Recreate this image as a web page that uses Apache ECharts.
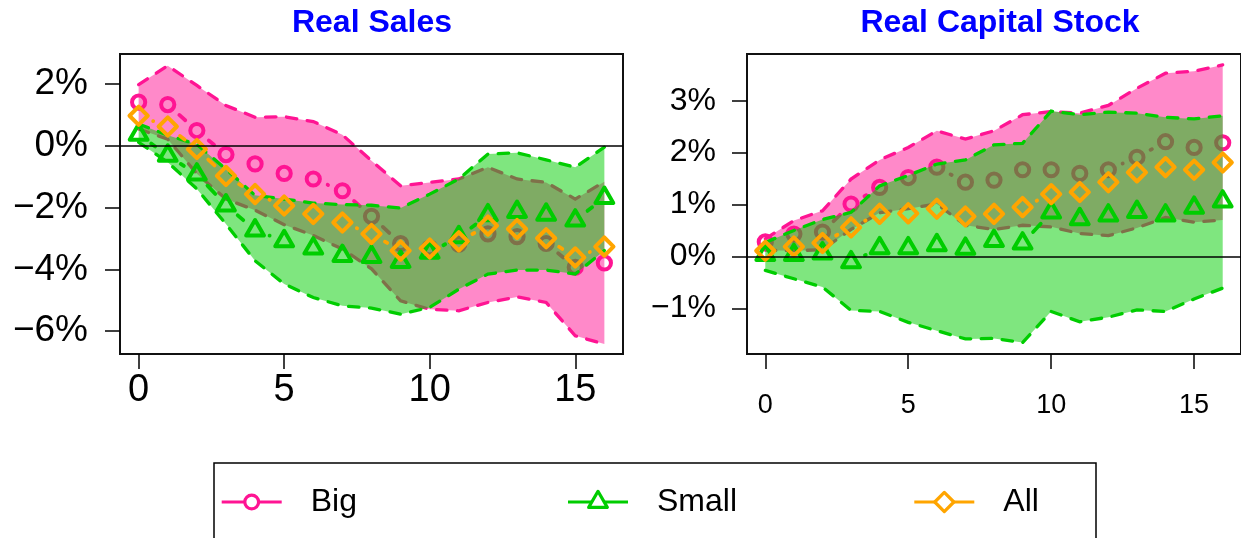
<!DOCTYPE html>
<html>
<head>
<meta charset="utf-8">
<script src="https://cdn.jsdelivr.net/npm/echarts@6/dist/echarts.min.js"></script>
<style>
  html, body { margin: 0; padding: 0; background: #fff; }
  #chart { width: 1241px; height: 538px; }
</style>
</head>
<body>
<div id="chart"></div>
<script>
// Horizons (quarters after the shock) and tick marks
const horizons = [0, 1, 2, 3, 4, 5, 6, 7, 8, 9, 10, 11, 12, 13, 14, 15, 16];
const horizonTicks = [0, 5, 10, 15];
const salesTicks = [-6, -4, -2, 0, 2];
const capitalTicks = [-1, 0, 1, 2, 3];
const groupNames = ['Big', 'Small', 'All'];
const panelTitles = ['Real Sales', 'Real Capital Stock'];

// Real sales responses (%)
const salesBig   = [1.42, 1.34, 0.50, -0.28, -0.58, -0.89, -1.07, -1.45, -2.28, -3.16, -3.30, -3.18, -2.85, -2.94, -3.16, -3.93, -3.79];
const salesSmall = [0.37, -0.31, -0.92, -1.92, -2.73, -3.08, -3.32, -3.56, -3.59, -3.75, -3.45, -2.95, -2.24, -2.13, -2.22, -2.41, -1.68];
const salesAll   = [0.98, 0.63, -0.10, -0.97, -1.56, -1.93, -2.20, -2.48, -2.85, -3.39, -3.32, -3.09, -2.58, -2.69, -2.99, -3.61, -3.26];
const salesBigUpper   = [1.99, 2.60, 1.96, 1.31, 0.93, 0.95, 0.79, 0.36, -0.48, -1.29, -1.18, -1.07, -0.69, -1.07, -1.18, -1.72, -1.16];
const salesBigLower   = [0.55, 0.22, -0.90, -1.72, -2.08, -2.55, -2.90, -3.34, -3.98, -5.02, -5.29, -5.34, -5.07, -4.89, -5.07, -6.15, -6.42];
const salesSmallUpper = [0.71, 0.35, 0.05, -0.75, -1.60, -1.72, -1.85, -1.90, -1.92, -2.01, -1.56, -1.07, -0.26, -0.22, -0.45, -0.69, -0.04];
const salesSmallLower = [0.12, -0.53, -1.39, -2.53, -3.72, -4.47, -4.91, -5.18, -5.25, -5.45, -5.23, -4.64, -4.15, -4.02, -4.02, -4.15, -3.39];

// Real capital stock responses (%)
const capBig   = [0.28, 0.43, 0.47, 1.01, 1.33, 1.52, 1.72, 1.43, 1.47, 1.67, 1.67, 1.60, 1.67, 1.91, 2.21, 2.10, 2.19];
const capSmall = [0.03, 0.03, 0.06, -0.11, 0.16, 0.16, 0.22, 0.15, 0.30, 0.25, 0.85, 0.72, 0.79, 0.86, 0.79, 0.94, 1.06];
const capAll   = [0.11, 0.19, 0.26, 0.56, 0.82, 0.83, 0.92, 0.77, 0.82, 0.95, 1.20, 1.24, 1.43, 1.62, 1.72, 1.67, 1.81];
const capBigUpper   = [0.34, 0.69, 0.88, 1.49, 1.86, 2.10, 2.42, 2.26, 2.42, 2.73, 2.79, 2.76, 2.91, 3.24, 3.53, 3.57, 3.69];
const capBigLower   = [0.12, 0.11, 0.13, 0.52, 0.84, 0.92, 1.01, 0.60, 0.52, 0.60, 0.57, 0.44, 0.40, 0.55, 0.75, 0.66, 0.70];
const capSmallUpper = [0.27, 0.50, 0.71, 0.85, 1.36, 1.56, 1.78, 1.86, 2.15, 2.18, 2.80, 2.73, 2.78, 2.76, 2.68, 2.65, 2.71];
const capSmallLower = [-0.27, -0.43, -0.59, -1.04, -1.06, -1.27, -1.43, -1.59, -1.58, -1.66, -1.06, -1.26, -1.17, -1.03, -1.06, -0.82, -0.61];

const PINK = '#FF1493';
const GREEN = '#00CD00';
const ORANGE = '#FFA500';
const PINK_FILL = 'rgba(255,20,147,0.5)';
const GREEN_FILL = 'rgba(0,205,0,0.5)';
const FONT = '"Liberation Sans", Arial, Helvetica, sans-serif';
const GAP = 15.5;        // blank space left around each marker by the connecting lines
const MARK_W = 4;        // marker outline width
const MARK_SCALE = 1.1;  // marker size factor

const pairs = ys => horizons.map((h, i) => [h, ys[i]]);
const pct = v => (v < 0 ? '\u2212' + (-v) : String(v)) + '%';

// Marker outlines, centred on the point (triangle on its centroid)
const markerShapes = {
  circle: (p, s) => ({ type: 'circle', shape: { cx: p[0], cy: p[1], r: 6 * s } }),
  triangle: (p, s) => ({ type: 'polygon', x: p[0], y: p[1],
    shape: { points: [[0, -9.3 * s], [8.1 * s, 4.7 * s], [-8.1 * s, 4.7 * s]] } }),
  diamond: (p, s) => ({ type: 'polygon', x: p[0], y: p[1],
    shape: { points: [[0, -8.3 * s], [8.3 * s, 0], [0, 8.3 * s], [-8.3 * s, 0]] } })
};

// Shaded confidence band with dashed edges
function bandSeries(gi, lo, hi, color, fill, z) {
  return {
    type: 'custom', xAxisIndex: gi, yAxisIndex: gi, z: z, silent: true,
    data: horizons.map((h, i) => [h, lo[i], hi[i]]),
    encode: { x: 0, y: [1, 2] },
    renderItem(params, api) {
      if (params.dataIndexInside !== 0) return null;
      const n = params.dataInsideLength;
      const upper = [], lower = [];
      for (let j = 0; j < n; j++) {
        const x = api.value(0, j);
        upper.push(api.coord([x, api.value(2, j)]));
        lower.push(api.coord([x, api.value(1, j)]));
      }
      const edge = { stroke: color, lineWidth: 3.3, lineDash: [10.5, 10.5], lineCap: 'round', fill: 'none' };
      return {
        type: 'group',
        children: [
          { type: 'polygon', shape: { points: upper.concat(lower.slice().reverse()) }, style: { fill: fill, stroke: 'none' } },
          { type: 'polyline', shape: { points: upper }, style: edge },
          { type: 'polyline', shape: { points: lower }, style: edge }
        ]
      };
    }
  };
}

// Connecting lines that stop short of each marker
function linkSeries(gi, ys, color, z) {
  return {
    type: 'custom', xAxisIndex: gi, yAxisIndex: gi, z: z, silent: true,
    data: pairs(ys),
    encode: { x: 0, y: 1 },
    renderItem(params, api) {
      const k = params.dataIndexInside;
      if (k >= params.dataInsideLength - 1) return null;
      const a = api.coord([api.value(0, k), api.value(1, k)]);
      const b = api.coord([api.value(0, k + 1), api.value(1, k + 1)]);
      const dx = b[0] - a[0], dy = b[1] - a[1];
      const len = Math.hypot(dx, dy);
      if (len <= 2 * GAP) return null;
      const ux = dx / len, uy = dy / len;
      return {
        type: 'line',
        shape: { x1: a[0] + ux * GAP, y1: a[1] + uy * GAP, x2: b[0] - ux * GAP, y2: b[1] - uy * GAP },
        style: { stroke: color, lineWidth: 3.8, lineCap: 'round' }
      };
    }
  };
}

// Hollow markers
function pointSeries(gi, name, ys, color, kind, z, extra) {
  return Object.assign({
    type: 'custom', name: name, xAxisIndex: gi, yAxisIndex: gi, z: z, silent: true,
    data: pairs(ys),
    encode: { x: 0, y: 1 },
    renderItem(params, api) {
      const p = api.coord([api.value(0), api.value(1)]);
      const el = markerShapes[kind](p, MARK_SCALE);
      el.style = { fill: 'none', stroke: color, lineWidth: MARK_W, lineJoin: 'round' };
      return el;
    }
  }, extra || {});
}

const zeroLine = {
  silent: true, z: 30, symbol: ['none', 'none'], label: { show: false },
  lineStyle: { color: '#000', width: 1.5, type: 'solid' },
  emphasis: { disabled: true },
  data: [{ yAxis: 0 }]
};

function panelSeries(gi, big, small, all, bigLo, bigHi, smallLo, smallHi) {
  return [
    bandSeries(gi, bigLo, bigHi, PINK, PINK_FILL, 2),
    linkSeries(gi, big, PINK, 3),
    pointSeries(gi, groupNames[0], big, PINK, 'circle', 4),
    bandSeries(gi, smallLo, smallHi, GREEN, GREEN_FILL, 5),
    linkSeries(gi, small, GREEN, 6),
    pointSeries(gi, groupNames[1], small, GREEN, 'triangle', 7),
    linkSeries(gi, all, ORANGE, 8),
    pointSeries(gi, groupNames[2], all, ORANGE, 'diamond', 9, { markLine: zeroLine })
  ];
}

function xAxisFor(gi, fontSize, margin) {
  return {
    gridIndex: gi, type: 'value', min: -0.64, max: 16.64,
    axisLine: { show: false, onZero: false }, splitLine: { show: false },
    axisTick: { show: true, customValues: horizonTicks, length: 15, lineStyle: { color: '#000', width: 1.5 } },
    axisLabel: { show: true, customValues: horizonTicks, fontSize: fontSize, color: '#000', fontFamily: FONT, margin: margin, verticalAlign: 'middle' }
  };
}

function yAxisFor(gi, min, max, ticks, fontSize, margin) {
  return {
    gridIndex: gi, type: 'value', min: min, max: max,
    axisLine: { show: false, onZero: false }, splitLine: { show: false },
    axisTick: { show: true, customValues: ticks, length: 15, lineStyle: { color: '#000', width: 1.5 } },
    axisLabel: { show: true, customValues: ticks, formatter: pct, fontSize: fontSize, color: '#000', fontFamily: FONT, margin: margin }
  };
}

const titleStyle = { font: 'bold 32px ' + FONT, fill: '#0000FF', align: 'center', verticalAlign: 'middle' };
const legendText = { font: '32px ' + FONT, fill: '#000', align: 'left', verticalAlign: 'middle' };
const LEG_Y = 502;

// Legend key: short line with the group's marker in the middle
function legendKey(x, color, kind, label) {
  const mid = x + 30;
  const mark = markerShapes[kind]([mid, LEG_Y], 1.15);
  mark.style = { fill: '#fff', stroke: color, lineWidth: 3.2, lineJoin: 'round' };
  return [
    { type: 'line', shape: { x1: x, y1: LEG_Y, x2: x + 60, y2: LEG_Y }, style: { stroke: color, lineWidth: 3.2 } },
    mark,
    { type: 'text', x: x + 89, y: LEG_Y, style: Object.assign({ text: label }, legendText) }
  ];
}

const chart = echarts.init(document.getElementById('chart'), null, { renderer: 'canvas' });
chart.setOption({
  animation: false,
  backgroundColor: '#fff',
  grid: [
    { left: 120, top: 54, width: 503, height: 300, show: true, borderColor: '#111', borderWidth: 2 },
    { left: 747, top: 54, width: 503, height: 300, show: true, borderColor: '#111', borderWidth: 2 }
  ],
  xAxis: [xAxisFor(0, 38, 37), xAxisFor(1, 27, 52)],
  yAxis: [
    yAxisFor(0, -6.74, 2.98, salesTicks, 37, 32),
    yAxisFor(1, -1.88, 3.90, capitalTicks, 32, 31)
  ],
  series: [].concat(
    panelSeries(0, salesBig, salesSmall, salesAll, salesBigLower, salesBigUpper, salesSmallLower, salesSmallUpper),
    panelSeries(1, capBig, capSmall, capAll, capBigLower, capBigUpper, capSmallLower, capSmallUpper)
  ),
  graphic: [
    { type: 'text', x: 372, y: 23, style: Object.assign({ text: panelTitles[0] }, titleStyle) },
    { type: 'text', x: 1000, y: 23, style: Object.assign({ text: panelTitles[1] }, titleStyle) },
    { type: 'rect', shape: { x: 214, y: 463, width: 882, height: 120 }, style: { fill: 'none', stroke: '#000', lineWidth: 1.5 } }
  ].concat(
    legendKey(221.7, PINK, 'circle', groupNames[0]),
    legendKey(568, GREEN, 'triangle', groupNames[1]),
    legendKey(914.3, ORANGE, 'diamond', groupNames[2])
  )
});
</script>
</body>
</html>
